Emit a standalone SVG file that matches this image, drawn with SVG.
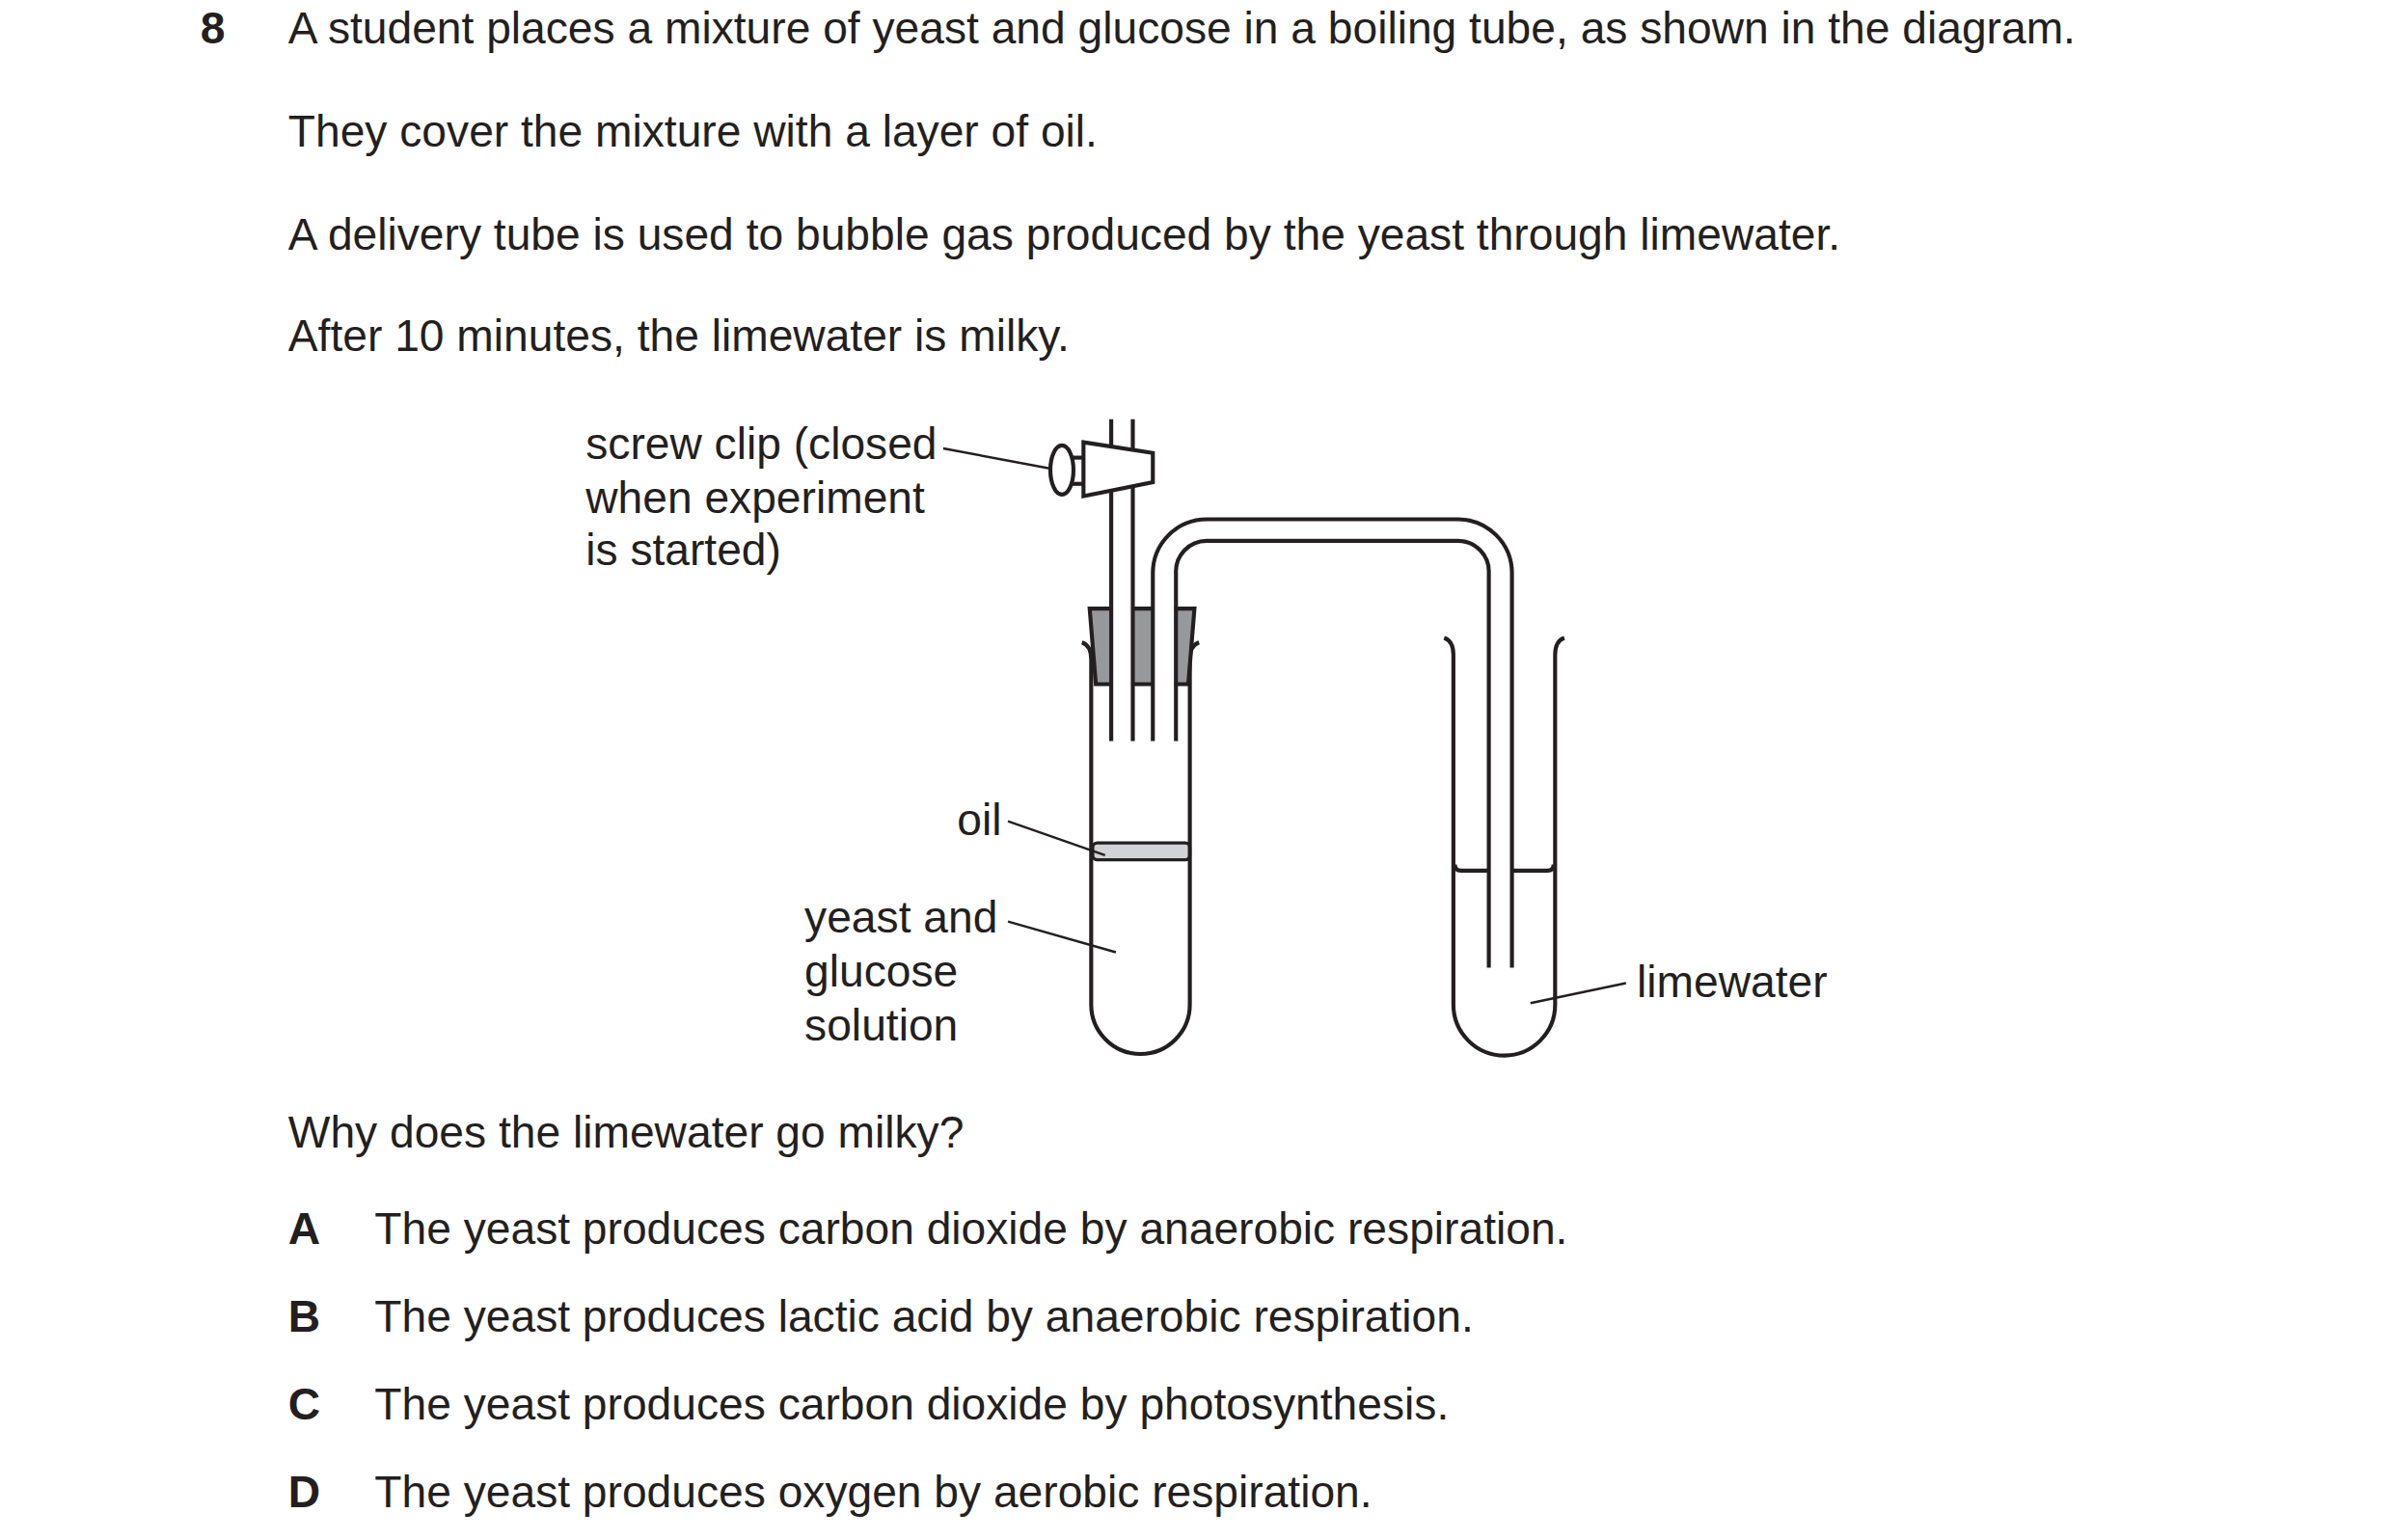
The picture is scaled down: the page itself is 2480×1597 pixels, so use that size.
<svg xmlns="http://www.w3.org/2000/svg" width="2480" height="1597" viewBox="0 0 2480 1597">
<style>
text{font-family:"Liberation Sans",Arial,sans-serif;font-size:28.9px;fill:#231f20}
.b{font-weight:bold}
.s{fill:none;stroke:#231f20;stroke-width:2.6;stroke-linecap:butt;stroke-linejoin:miter}
.w{fill:#fff;stroke:#231f20;stroke-width:2.6}
.l{stroke:#231f20;stroke-width:1.5;fill:none}
</style>
<rect width="2480" height="1597" fill="#fff"/>
<g transform="scale(1.59794)">
<g id="question">
<text x="130" y="28" class="b">8</text>
<text x="187" y="28">A student places a mixture of yeast and glucose in a boiling tube, as shown in the diagram.</text>
<text x="187" y="95">They cover the mixture with a layer of oil.</text>
<text x="187" y="162">A delivery tube is used to bubble gas produced by the yeast through limewater.</text>
<text x="187" y="228">After 10 minutes, the limewater is milky.</text>
<text x="187" y="745">Why does the limewater go milky?</text>
</g>
<g id="options">
<text x="187" y="807" class="b">A</text><text x="243" y="807">The yeast produces carbon dioxide by anaerobic respiration.</text>
<text x="187" y="864" class="b">B</text><text x="243" y="864">The yeast produces lactic acid by anaerobic respiration.</text>
<text x="187" y="921" class="b">C</text><text x="243" y="921">The yeast produces carbon dioxide by photosynthesis.</text>
<text x="187" y="978" class="b">D</text><text x="243" y="978">The yeast produces oxygen by aerobic respiration.</text>
</g>
<g id="boiling-tube">
<rect x="709" y="547" width="63" height="11" rx="3" fill="#d1d3d4" stroke="#231f20" stroke-width="2"/>
<path class="s" d="M702,417 Q708,419 708,428 L708,652 A32,32 0 0 0 772,652 L772,428 Q772,419 778,417"/>
<polygon points="707,395 775,395 771,444 711,444" fill="#97989a" stroke="#231f20" stroke-width="2.6"/>
</g>
<g id="delivery-tube">
<rect x="749" y="340" width="13" height="141" fill="#fff"/>
<path class="s" d="M748,481 L748,372 A35,35 0 0 1 783,337 L946,337 A35,35 0 0 1 981,372 L981,628"/>
<path class="s" d="M763,481 L763,372 A20,20 0 0 1 783,351 L946,351 A20,20 0 0 1 966,372 L966,628"/>
</g>
<g id="clip-tube">
<rect x="722" y="272" width="12" height="209" fill="#fff"/>
<path class="s" d="M721,272 L721,481 M735,272 L735,481"/>
</g>
<g id="screw-clip">
<rect x="695" y="297" width="9" height="17" class="w"/>
<ellipse cx="689" cy="305" rx="7.5" ry="16" class="w"/>
<polygon points="703,287 748,294 748,313 703,322" class="w"/>
</g>
<g id="limewater-tube">
<path class="s" d="M937,414 Q943,416 943,425 L943,652 A33,33 0 0 0 1009,652 L1009,425 Q1009,416 1015,414"/>
<path class="s" d="M944,561 Q944,565 948,565 L966,565 M981,565 L1004,565 Q1008,565 1008,561"/>
</g>
<g id="labels">
<text x="380" y="298">screw clip (closed</text>
<text x="380" y="333">when experiment</text>
<text x="380" y="367">is started)</text>
<text x="621" y="542">oil</text>
<text x="522" y="605">yeast and</text>
<text x="522" y="640">glucose</text>
<text x="522" y="675">solution</text>
<text x="1062" y="647">limewater</text>
</g>
<g id="connectors">
<path class="l" d="M612,291 L681,304 M654,533 L717,555 M654,598 L724,618 M993,651 L1055,638"/>
</g>
</g>
</svg>
